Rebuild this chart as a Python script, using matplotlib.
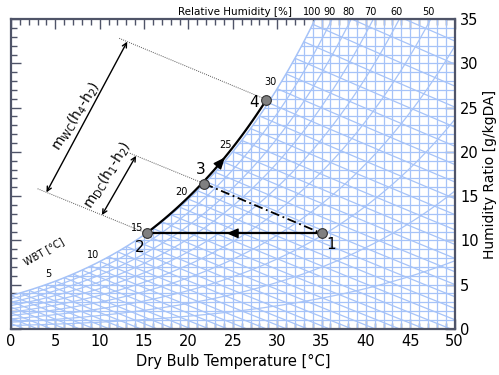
import numpy as np
import matplotlib
matplotlib.use('Agg')
import matplotlib.pyplot as plt
from matplotlib.patches import Polygon
from matplotlib.transforms import blended_transform_factory

# ---------------- data ----------------
point_labels = ['1', '2', '3', '4']
point_T = [35.0, 15.3, 21.8, 28.8]      # dry bulb [°C]
point_W = [10.8, 10.8, 16.4, 25.9]      # humidity ratio [g/kgDA]
wbt_label_values = [5, 10, 15, 20, 25, 30]
rh_label_values = [100, 90, 80, 70, 60, 50]
rh_curve_values = [10, 20, 30, 40, 50, 60, 70, 80, 90, 100]
x_ticks = [0, 5, 10, 15, 20, 25, 30, 35, 40, 45, 50]
y_ticks = [0, 5, 10, 15, 20, 25, 30, 35]

P = 101.325
def psat(T):
    return 0.61094 * np.exp(17.625 * T / (T + 243.04))
def wsat(T):
    return 622.0 * psat(T) / (P - psat(T))
def w_rh(T, rh):
    pv = rh * psat(T)
    return 622.0 * pv / (P - pv)
def w_wbt(T, tw):
    ws = wsat(tw) / 1000.0
    return 1000.0 * ((2501 - 2.326 * tw) * ws - 1.006 * (T - tw)) / (2501 + 1.86 * T - 4.186 * tw)
def enth(T, W):
    return 1.006 * T + W / 1000.0 * (2501 + 1.86 * T)
def w_h(T, h):
    return (h - 1.006 * T) * 1000.0 / (2501 + 1.86 * T)

GRID = '#a6c3f8'
SPINE = '#4f5468'

fig = plt.figure(figsize=(4.99, 3.75), dpi=100)
ax = fig.add_axes([0.022, 0.123, 0.889, 0.826])
ax.set_xlim(0, 50)
ax.set_ylim(0, 35)

# clip region: below saturation curve
Ts = np.linspace(0, 50, 400)
clip_poly = Polygon(np.column_stack([np.r_[0, Ts, 50], np.r_[0, wsat(Ts), 0]]),
                    closed=True, transform=ax.transData, facecolor='none', edgecolor='none')
ax.add_patch(clip_poly)

lines = []
for t in range(0, 51):
    lines += ax.plot([t, t], [0, 40], color=GRID, lw=0.9)
for w in range(0, 36):
    lines += ax.plot([0, 50], [w, w], color=GRID, lw=0.9)
for tw in range(-15, 37):
    T = np.linspace(tw, 60, 200)
    lines += ax.plot(T, w_wbt(T, tw), color=GRID, lw=0.9)
for rh in rh_curve_values:
    lines += ax.plot(Ts, w_rh(Ts, rh / 100.0), color=GRID, lw=0.9)
for ln in lines:
    ln.set_clip_path(clip_poly)

# saturation edge (light)
ax.plot(Ts, wsat(Ts), color=GRID, lw=1.0)

# ---------------- process ----------------
T1, T2, T3, T4 = point_T
W1, W2, W3, W4 = point_W
ax.plot([T1, T2], [W1, W2], color='black', lw=1.6, zorder=5)
Tc = np.linspace(T2, T4, 100)
def wcurve(t):
    return wsat(t) + (W4 - wsat(T4)) * (t - T2) / (T4 - T2)
ax.plot(Tc, wcurve(Tc), color='black', lw=1.6, zorder=5)
ax.plot([T3, T1], [W3, W1], color='black', lw=1.3, linestyle=(0, (5, 2, 1, 2)), zorder=5)

head = dict(arrowstyle='-|>,head_length=0.7,head_width=0.3', color='black', lw=1.0,
            mutation_scale=10, shrinkA=0, shrinkB=0)
ax.annotate('', xy=(24.3, W1), xytext=(25.6, W1), arrowprops=head, zorder=6)
ta, tb = 23.4, 24.1
ax.annotate('', xy=(tb, wcurve(tb)), xytext=(ta, wcurve(ta)), arrowprops=head, zorder=6)

ax.plot(point_T, point_W, 'o', ms=7, mfc='#808080', mec='#333333', mew=0.8, zorder=7)
offsets = [(7, -8), (-5, -10), (-3, 10), (-9, -2)]
for lab, t, w, off in zip(point_labels, point_T, point_W, offsets):
    ax.annotate(lab, xy=(t, w), xytext=off, textcoords='offset points',
                ha='center', va='center', fontsize=11, zorder=8)

# ---------------- enthalpy guides & dimension arrows ----------------
h2, h3, h4 = enth(T2, W2), enth(T3, W3), enth(T4, W4)
guide_style = dict(color='#555555', lw=0.7, linestyle=(0, (1, 1.2)))
ax.plot([3.0, T2], [w_h(3.0, h2), W2], **guide_style)
ax.plot([13.4, T3], [w_h(13.4, h3), W3], **guide_style)
ax.plot([12.2, T4], [w_h(12.2, h4), W4], **guide_style)

arr = dict(arrowstyle='<->', color='black', lw=1.0, mutation_scale=8, shrinkA=0, shrinkB=0)
ax.annotate('', xy=(14.1, w_h(14.1, h3)), xytext=(10.25, w_h(10.25, h2)), arrowprops=arr)
ax.annotate('', xy=(13.1, w_h(13.1, h4)), xytext=(4.0, w_h(4.0, h2)), arrowprops=arr)

ax.text(7.4, 24.0, r'm$_{\mathrm{WC}}$(h$_4$-h$_2$)', rotation=58, ha='center', va='center', fontsize=10)
ax.text(10.9, 17.4, r'm$_{\mathrm{DC}}$(h$_1$-h$_2$)', rotation=58, ha='center', va='center', fontsize=10)

# ---------------- WBT labels ----------------
for tw in wbt_label_values:
    ax.annotate(str(tw), xy=(tw, wsat(tw)), xytext=(-5, 5), textcoords='offset points',
                ha='center', va='center', fontsize=7)
ax.text(3.7, 8.7, 'WBT [°C]', rotation=30, ha='center', va='center', fontsize=7)

# ---------------- RH labels ----------------
trans = blended_transform_factory(ax.transData, ax.transAxes)
for rh in rh_label_values:
    ps_needed = 35.0 * P / (622.0 + 35.0) / (rh / 100.0)
    Tg = np.linspace(20, 60, 4001)
    Tx = Tg[np.argmin(np.abs(psat(Tg) - ps_needed))]
    ax.text(Tx - 0.3, 1.008, str(rh), transform=trans, ha='center', va='bottom', fontsize=7)
ax.text(25.3, 1.008, 'Relative Humidity [%]', transform=trans, ha='center', va='bottom', fontsize=7.5)

# ---------------- axes styling ----------------
ax.set_xticks(x_ticks)
ax.set_yticks(y_ticks)
ax.set_xticks(np.arange(0, 51, 1), minor=True)
ax.set_yticks(np.arange(0, 36, 1), minor=True)
ax.tick_params(which='both', direction='in', top=True, bottom=True, left=True, right=True,
               labelleft=False, labelright=True, labelbottom=True, labeltop=False,
               colors=SPINE, labelcolor='black', labelsize=10.5, width=1.0)
ax.tick_params(which='major', length=7, pad=4)
ax.tick_params(which='minor', length=4)
ax.tick_params(axis='y', which='minor', right=False)
for s in ax.spines.values():
    s.set_color(SPINE)
    s.set_linewidth(1.6)
    s.set_zorder(10)

ax.set_xlabel('Dry Bulb Temperature [°C]', fontsize=10.5, labelpad=3)
ax.yaxis.set_label_position('right')
ax.set_ylabel('Humidity Ratio [g/kgDA]', fontsize=10, labelpad=3)

fig.savefig('out.png', dpi=100)
